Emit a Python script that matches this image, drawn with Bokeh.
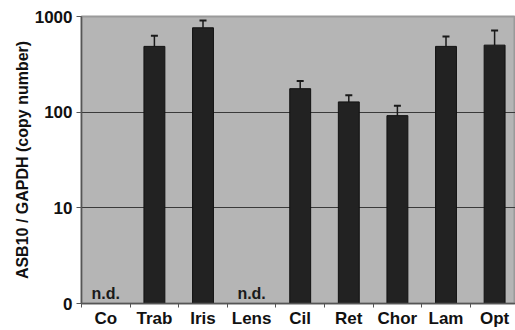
from bokeh.plotting import figure
from bokeh.models import Range1d, FixedTicker, ColumnDataSource, Whisker, TeeHead
from bokeh.core.properties import value
from bokeh.embed import file_html
from bokeh.resources import INLINE

categories = ["Co", "Trab", "Iris", "Lens", "Cil", "Ret", "Chor", "Lam", "Opt"]
copy_number = [None, 487, 762, None, 176, 128, 92, 487, 502]
error_upper = [None, 628, 908, None, 212, 150, 117, 619, 715]
y_ticks = [1, 10, 100, 1000]
y_tick_labels = {1: "0", 10: "10", 100: "100", 1000: "1000"}
nd_label = "n.d."

FONT = "Liberation Sans"

xs, tops, errs = [], [], []
nd_x = []
for i, (c, v, e) in enumerate(zip(categories, copy_number, error_upper)):
    if v is None:
        nd_x.append(i + 0.5)
    else:
        xs.append(i + 0.5)
        tops.append(v)
        errs.append(e)

src = ColumnDataSource(dict(x=xs, top=tops, bottom=[1] * len(xs), err=errs))

p = figure(width=515, height=330, y_axis_type="log",
           x_range=Range1d(0, 8.93), y_range=Range1d(1, 1000),
           output_backend="svg", toolbar_location=None,
           min_border_left=81, min_border_right=0, min_border_top=16, min_border_bottom=26)

p.background_fill_color = "#b5b5b5"
p.border_fill_color = "white"
p.outline_line_color = "#9a9a9a"
p.outline_line_width = 2

# grid
p.xgrid.visible = False
p.ygrid.ticker = FixedTicker(ticks=[10, 100])
p.ygrid.grid_line_color = "#3a3a3a"
p.ygrid.grid_line_width = 1.2
p.ygrid.minor_grid_line_color = None

# bars
p.vbar(x="x", width=0.43, top="top", bottom="bottom", source=src,
       fill_color="#222222", line_color="#111111", line_width=1)

# error bars (upper only)
w = Whisker(source=src, base="x", lower="top", upper="err",
            line_color="#1a1a1a", line_width=1.5,
            upper_head=TeeHead(size=7, line_color="#1a1a1a", line_width=2),
            lower_head=None)
p.add_layout(w)

# n.d. labels
p.text(x=nd_x, y=[1] * len(nd_x), text=[nd_label] * len(nd_x),
       text_font=value(FONT), text_font_style="bold", text_font_size="16px",
       text_align="center", text_baseline="alphabetic", y_offset=-10,
       text_color="#1a1a1a")

# x axis
xa = p.xaxis[0]
xa.ticker = FixedTicker(ticks=[i + 0.5 for i in range(len(categories))],
                        minor_ticks=list(range(len(categories) + 1)))
xa.major_label_overrides = {i + 0.5: c for i, c in enumerate(categories)}
xa.major_tick_line_color = None
xa.major_tick_out = 0
xa.minor_tick_line_color = "#555555"
xa.minor_tick_out = 4
xa.minor_tick_in = 0
xa.axis_line_color = "#555555"
xa.axis_line_width = 1.5
xa.major_label_text_font = FONT
xa.major_label_text_font_style = "bold"
xa.major_label_text_font_size = "17px"
xa.major_label_text_color = "#111111"
xa.major_label_standoff = 1

# y axis
ya = p.yaxis[0]
ya.ticker = FixedTicker(ticks=y_ticks)
ya.major_label_overrides = y_tick_labels
ya.minor_tick_line_color = None
ya.major_tick_out = 5
ya.major_tick_in = 0
ya.major_tick_line_color = "#555555"
ya.axis_line_color = "#555555"
ya.axis_line_width = 1.5
ya.major_label_text_font = FONT
ya.major_label_text_font_style = "bold"
ya.major_label_text_font_size = "17px"
ya.major_label_text_color = "#111111"
ya.major_label_standoff = 4
ya.axis_label = "ASB10 / GAPDH (copy number)"
ya.axis_label_text_font = FONT
ya.axis_label_text_font_style = "bold"
ya.axis_label_text_font_size = "16px"
ya.axis_label_text_color = "#111111"
ya.axis_label_standoff = 1

open("out.html", "w").write(file_html(p, INLINE))
